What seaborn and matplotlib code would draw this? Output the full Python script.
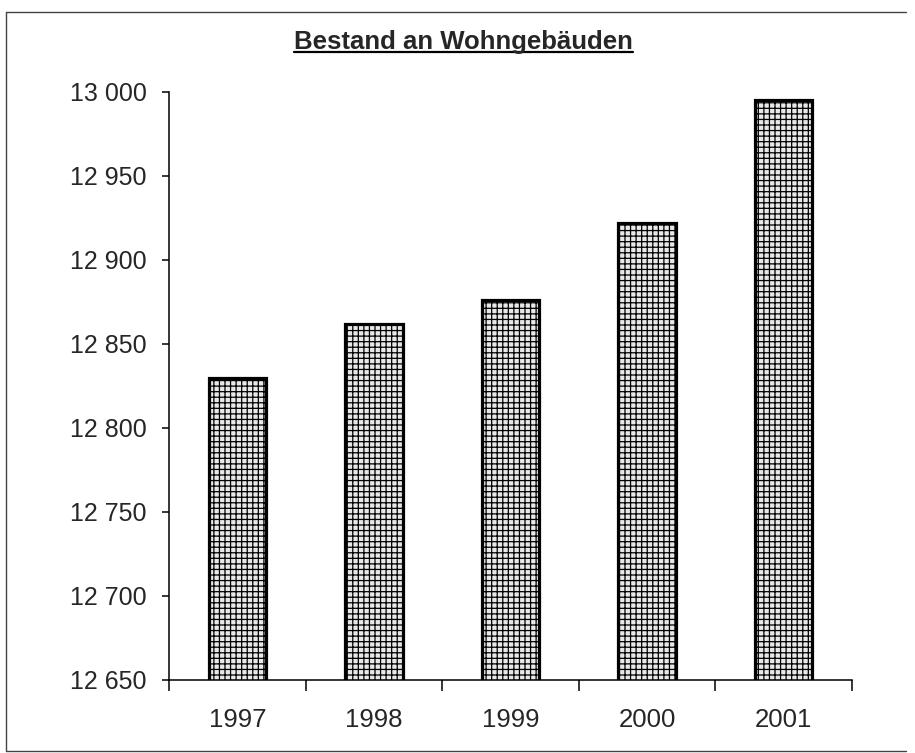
import matplotlib
matplotlib.use("Agg")
import matplotlib.pyplot as plt
import seaborn as sns
import pandas as pd
from matplotlib.ticker import FuncFormatter, FixedLocator
from matplotlib.lines import Line2D

# ── data ──────────────────────────────────────────────────────────────────────
years  = ["1997", "1998", "1999", "2000", "2001"]
bestand = [12830, 12862, 12876, 12922, 12995]
y_ticks = [12650, 12700, 12750, 12800, 12850, 12900, 12950, 13000]
title = "Bestand an Wohngebäuden"

df = pd.DataFrame({"Jahr": years, "Bestand": bestand})

sns.set_style("white")
plt.rcParams["font.family"] = ["Liberation Sans", "DejaVu Sans"]
plt.rcParams["hatch.color"] = "#7a7a7a"
plt.rcParams["hatch.linewidth"] = 0.9

fig = plt.figure(figsize=(9.15, 7.53), dpi=100)
ax = fig.add_axes([0.1847, 0.097, 0.7463, 0.781])

sns.barplot(data=df, x="Jahr", y="Bestand", color="#e8e8e8", width=0.42,
            edgecolor="black", linewidth=2.3, ax=ax, saturation=1)
for bar in ax.patches:
    bar.set_hatch("+++")

ax.set_ylim(12650, 13000)
ax.set_xlim(-0.5, len(years) - 0.5)
ax.set_yticks(y_ticks)
ax.yaxis.set_major_formatter(FuncFormatter(lambda v, p: f"{int(v):,}".replace(",", " ")))
ax.set_xlabel("")
ax.set_ylabel("")

# category boundary ticks on x axis
ax.xaxis.set_minor_locator(FixedLocator([i - 0.5 for i in range(len(years) + 1)]))
ax.tick_params(axis="x", which="major", length=0, pad=20, labelsize=18.5)
ax.tick_params(axis="x", which="minor", length=8, width=1.1, color="black", bottom=True)
ax.tick_params(axis="y", which="major", length=5, width=1.1, color="black",
               left=True, labelsize=18, pad=11)

for s in ["top", "right"]:
    ax.spines[s].set_visible(False)
for s in ["left", "bottom"]:
    ax.spines[s].set_color("black")
    ax.spines[s].set_linewidth(1.1)

# underlined title
t = fig.text(0.507, 0.944, title, ha="center", va="center",
             fontsize=18.5, fontweight="bold")
fig.canvas.draw()
bb = t.get_window_extent().transformed(fig.transFigure.inverted())
fig.add_artist(Line2D([bb.x0, bb.x1], [bb.y0 + 0.003, bb.y0 + 0.003],
                      transform=fig.transFigure, color="black", lw=1.6))

# page frame (left, top, bottom)
frame_kw = dict(transform=fig.transFigure, color="#444444", lw=1)
fig.add_artist(Line2D([0.007, 0.007], [0.003, 0.984], **frame_kw))
fig.add_artist(Line2D([0.007, 0.99], [0.984, 0.984], **frame_kw))
fig.add_artist(Line2D([0.007, 0.99], [0.003, 0.003], **frame_kw))

plt.savefig("out.png", dpi=100)
plt.close()
